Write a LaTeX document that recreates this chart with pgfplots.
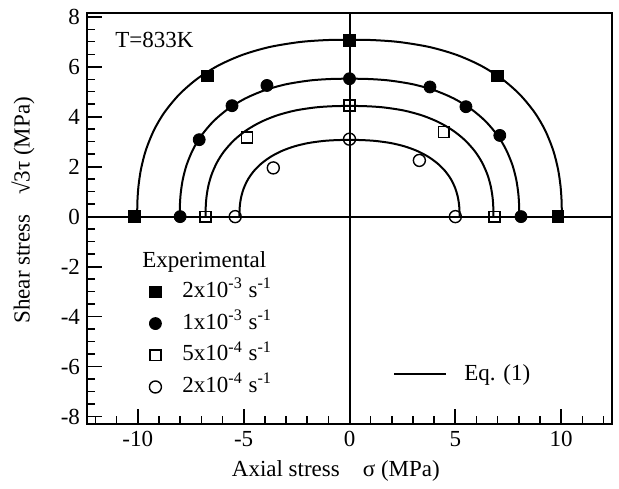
\documentclass[border=0pt]{standalone}
\usepackage{pgfplots}
\pgfplotsset{compat=1.18}
\usepackage{fontspec}
\setmainfont{Liberation Serif}
\begin{document}
\begin{tikzpicture}[font=\fontsize{11.5}{13.8}\selectfont]
\begin{axis}[
  name=ax,
  scale only axis, width=262.5pt, height=205.5pt,
  xmin=-12.4, xmax=12.4, ymin=-8.3, ymax=8.15,
  axis line style={line width=0.9pt},
  tick align=inside, xtick pos=bottom, ytick pos=left,
  xtick={-10,-5,0,5,10}, xticklabels={-10,-5,0,5,10},
  ytick={-8,-6,-4,-2,0,2,4,6,8}, yticklabels={-8,-6,-4,-2,0,2,4,6,8},
  minor xtick={-12,-11,-9,-8,-7,-6,-4,-3,-2,-1,1,2,3,4,6,7,8,9,11,12},
  minor ytick={-7.5,-7,-6.5,-5.5,-5,-4.5,-3.5,-3,-2.5,-1.5,-1,-0.5,0.5,1,1.5,2.5,3,3.5,4.5,5,5.5,6.5,7,7.5},
  major tick length=7.5pt, minor tick length=4pt,
  every major tick/.append style={black, line width=0.9pt},
  every minor tick/.append style={black, line width=0.7pt},
  xlabel={Axial stress\hspace{0.75em} σ (MPa)},
  ylabel={Shear stress\hspace{0.6em} √3τ (MPa)},
  xlabel style={at={(axis description cs:0.474,-0.114)}, anchor=center},
  ylabel style={at={(axis description cs:-0.122,0.52)}, anchor=center},
  mleg/.style={legend image code/.code={\path[draw=none, fill=none] (-6pt,-4pt) rectangle (6pt,4pt); \draw[##1] plot coordinates {(0pt,0pt)};}},
  legend style={draw=none, fill=none, at={(axis description cs:0.1067,0.348)}, anchor=north west, inner sep=0pt, row sep=5.35pt, column sep=7.5pt, nodes={inner sep=0pt, text height=8pt, text depth=2.5pt}},
  legend cell align=left,
]
% axis lines through origin
\addplot[black, line width=1pt, forget plot] coordinates {(-12.4,0) (12.4,0)};
\addplot[black, line width=1pt, forget plot] coordinates {(0,-8.3) (0,8.15)};
% Eq. (1) curves
\addplot[black, line width=1pt, smooth, forget plot] coordinates {
(-10.03,0) (-10.019,0.606) (-9.968,1.225) (-9.847,1.912) (-9.619,2.661) (-9.241,3.454) (-8.743,4.171) (-8.032,4.899) (-7.176,5.528) (-6.179,6.056) (-5.045,6.478) (-3.769,6.790) (-2.332,6.990) (-1.090,7.066) (0,7.08) (1.090,7.066) (2.332,6.990) (3.769,6.790) (5.045,6.478) (6.179,6.056) (7.176,5.528) (8.032,4.899) (8.743,4.171) (9.241,3.454) (9.619,2.661) (9.847,1.912) (9.968,1.225) (10.019,0.606) (10.03,0)};
\addplot[black, line width=1pt, smooth, forget plot] coordinates {
(-8.02,0) (-8.011,0.472) (-7.970,0.955) (-7.874,1.491) (-7.692,2.075) (-7.389,2.693) (-6.991,3.252) (-6.423,3.820) (-5.738,4.310) (-4.941,4.722) (-4.034,5.050) (-3.014,5.294) (-1.865,5.450) (-0.872,5.509) (0,5.52) (0.872,5.509) (1.865,5.450) (3.014,5.294) (4.034,5.050) (4.941,4.722) (5.738,4.310) (6.423,3.820) (6.991,3.252) (7.389,2.693) (7.692,2.075) (7.874,1.491) (7.970,0.955) (8.011,0.472) (8.02,0)};
\addplot[black, line width=1pt, smooth, forget plot] coordinates {
(-6.8,0) (-6.792,0.379) (-6.758,0.767) (-6.676,1.197) (-6.522,1.665) (-6.265,2.161) (-5.927,2.610) (-5.446,3.065) (-4.865,3.459) (-4.189,3.789) (-3.420,4.053) (-2.556,4.249) (-1.581,4.374) (-0.739,4.421) (0,4.43) (0.739,4.421) (1.581,4.374) (2.556,4.249) (3.420,4.053) (4.189,3.789) (4.865,3.459) (5.446,3.065) (5.927,2.610) (6.265,2.161) (6.522,1.665) (6.676,1.197) (6.758,0.767) (6.792,0.379) (6.8,0)};
\addplot[black, line width=1pt, smooth, forget plot] coordinates {
(-5.2,0) (-5.194,0.263) (-5.168,0.531) (-5.105,0.829) (-4.987,1.154) (-4.791,1.498) (-4.533,1.809) (-4.164,2.124) (-3.720,2.397) (-3.204,2.626) (-2.615,2.809) (-1.954,2.944) (-1.209,3.031) (-0.565,3.064) (0,3.07) (0.565,3.064) (1.209,3.031) (1.954,2.944) (2.615,2.809) (3.204,2.626) (3.720,2.397) (4.164,2.124) (4.533,1.809) (4.791,1.498) (4.987,1.154) (5.105,0.829) (5.168,0.531) (5.194,0.263) (5.2,0)};
% experimental data
\addplot[only marks, mark=square*, mark size=2.9pt, black, mleg] coordinates {
(-10.15,0) (-6.7,5.64) (0,7.05) (7.0,5.63) (9.85,0)};
\addlegendentry{2x10\textsuperscript{-3} s\textsuperscript{-1}}
\addplot[only marks, mark=*, mark size=3pt, black, mleg] coordinates {
(-8.0,0) (-7.1,3.08) (-5.55,4.44) (-3.9,5.25) (0,5.52) (3.8,5.19) (5.5,4.4) (7.1,3.25) (8.1,0)};
\addlegendentry{1x10\textsuperscript{-3} s\textsuperscript{-1}}
\addplot[only marks, mark=square, mark size=2.7pt, black, mark options={line width=0.7pt}, mleg] coordinates {
(-6.8,0) (-4.85,3.17) (0,4.45) (4.45,3.38) (6.85,0)};
\addlegendentry{5x10\textsuperscript{-4} s\textsuperscript{-1}}
\addplot[only marks, mark=o, mark size=3pt, black, mark options={line width=0.7pt}, mleg] coordinates {
(-5.4,0) (-3.6,1.95) (0,3.1) (3.3,2.25) (5.0,0)};
\addlegendentry{2x10\textsuperscript{-4} s\textsuperscript{-1}}
\node[anchor=west, inner sep=0pt] at (axis description cs:0.0533,0.934) {T=833K};
\node[anchor=west, inner sep=0pt] at (axis description cs:0.1048,0.394) {Experimental};
\end{axis}
\begin{axis}[
  at={(ax.south west)}, anchor=south west,
  scale only axis, width=262.5pt, height=205.5pt,
  xmin=-12.4, xmax=12.4, ymin=-8.3, ymax=8.15,
  hide axis,
  legend style={draw=none, fill=none, at={(axis description cs:0.5829,0.1217)}, anchor=west, inner sep=0pt, column sep=8.5pt, nodes={inner sep=0pt}},
  legend image code/.code={\draw[#1] (0pt,0pt) -- (26pt,0pt);},
]
\addlegendimage{black, line width=1pt}
\addlegendentry{Eq. (1)}
\end{axis}
\path ([shift={(-43.5pt,-32pt)}]ax.south west) rectangle ([shift={(3.5pt,6.5pt)}]ax.north east);
\end{tikzpicture}
\end{document}
